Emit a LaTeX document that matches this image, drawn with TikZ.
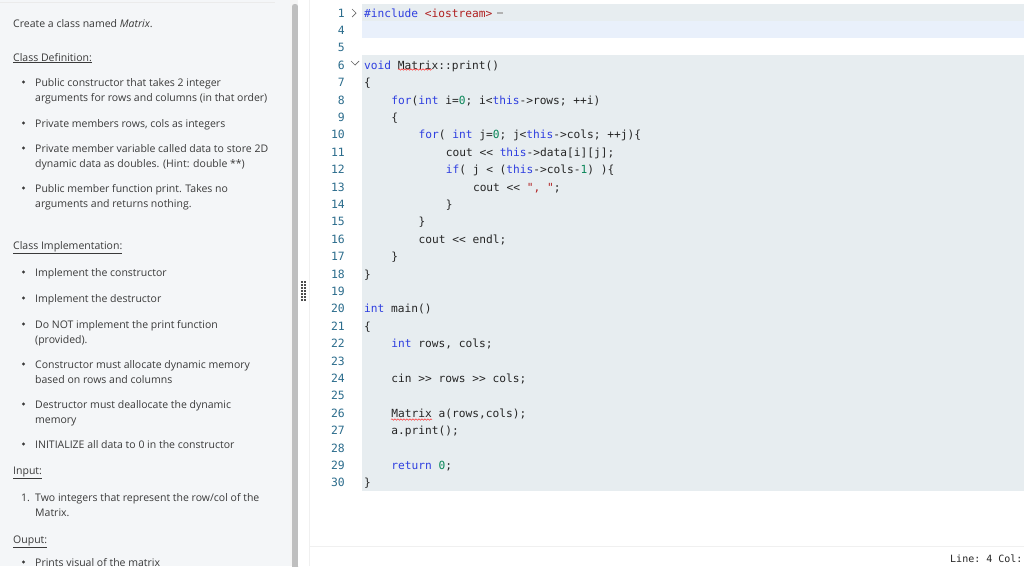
\documentclass[tikz,border=0pt]{standalone}
\usepackage{fontspec}
\setmainfont{Open Sans}
\setmonofont{DejaVu Sans Mono}
\usetikzlibrary{decorations.pathmorphing}
\definecolor{panel}{HTML}{F4F6F8}
\definecolor{txt}{HTML}{3A3A3A}
\definecolor{codebg}{HTML}{E7EDF0}
\definecolor{curln}{HTML}{E9F0FB}
\definecolor{lnum}{HTML}{2B6C8C}
\definecolor{kwc}{HTML}{2F3FE0}
\definecolor{numc}{HTML}{098658}
\definecolor{strc}{HTML}{B02020}
\newcommand{\kw}[1]{\textcolor{kwc}{#1}}
\newcommand{\nm}[1]{\textcolor{numc}{#1}}
\newcommand{\st}[1]{\textcolor{strc}{#1}}
\tikzset{
  lt/.style={anchor=base west,inner sep=0pt,text=txt,font=\fontsize{10.5}{12}\selectfont},
  cd/.style={anchor=base west,inner sep=0pt,text=black!85,font=\ttfamily\fontsize{11.2}{13}\selectfont},
  ln/.style={anchor=base east,inner sep=0pt,text=lnum,font=\ttfamily\fontsize{11.4}{13}\selectfont},
  bul/.style={circle,fill=txt,inner sep=0pt,minimum size=3.4pt}
}
\begin{document}
\begin{tikzpicture}[x=1pt,y=-1pt]
\useasboundingbox (0,0) rectangle (1024,566);
% panels
\fill[panel] (0,0) rectangle (290,566);
\draw[black!8] (0,2) -- (275,2);
\fill[black!4] (290,0) rectangle (298,566);
\fill[black!25,rounded corners=2.5pt] (292,4) rectangle (298,572);
\fill[white] (298,0) rectangle (1024,566);
\draw[black!6] (309,0) -- (309,566);
\foreach \yy in {281,284,...,299}{\fill[black!70] (301,\yy) rectangle +(1.5,1.5); \fill[black!70] (304,\yy) rectangle +(1.5,1.5);}
% code backgrounds
\fill[codebg] (362,4) rectangle (1024,21);
\fill[curln] (362,21) rectangle (1024,38);
\fill[codebg] (362,55) rectangle (1024,491);
\draw[black!6] (309,546) -- (1024,546);
% left text
\node[lt] (t0) at (13,27) {Create a class named \textit{Matrix}.};
\node[lt] (h1) at (13,61) {\underline{Class Definition:}};
\foreach \yy/\tx in {86/{Public constructor that takes 2 integer},101/{arguments for rows and columns (in that order)},127/{Private members rows, cols as integers},152/{Private member variable called data to store 2D},167/{dynamic data as doubles. (Hint: double **)},192/{Public member function print. Takes no},207/{arguments and returns nothing.},276/{Implement the constructor},302/{Implement the destructor},328/{Do NOT implement the print function},343/{(provided).},368/{Constructor must allocate dynamic memory},383/{based on rows and columns},408/{Destructor must deallocate the dynamic},423/{memory},448/{INITIALIZE all data to 0 in the constructor},501/{Two integers that represent the row/col of the},516/{Matrix.},566/{Prints visual of the matrix}}
  {\node[lt] at (35,\yy) {\tx};}
\foreach \yy in {82,123,148,188,272,298,324,364,404,444,562}{\node[bul] at (23.5,\yy) {};}
\node[lt] (h2) at (13,249) {\underline{Class Implementation:}};
\node[lt] (h3) at (13,474) {\underline{Input:}};
\node[lt] (n1) at (21,501) {1.};
\node[lt] (h4) at (13,543) {\underline{Ouput:}};
% line numbers
\foreach \n [count=\k from 0] in {1,4,5,6,7,8,9,10,11,12,13,14,15,16,17,18,19,20,21,22,23,24,25,26,27,28,29,30}
  {\node[ln] at (345,{17+17.4*\k}) {\n};}
\draw[black!60,line width=0.7pt] (352,9) -- (356,13) -- (352,17);
\draw[black!60,line width=0.7pt] (351,61) -- (355,65) -- (359,61);
% code
\newcommand{\cl}[3]{\node[cd] at ({364+6.8*#1},{17+17.4*#2}) {#3};}
\cl{0}{0}{\kw{\#include} \st{<iostream>}}
\fill[black!30] (497,12) rectangle (503,13.5);
\cl{0}{3}{\kw{void} Matrix::print()}
\cl{0}{4}{\{}
\cl{4}{5}{\kw{for}(\kw{int} i=\nm{0}; i<\kw{this}->rows; ++i)}
\cl{4}{6}{\{}
\cl{8}{7}{\kw{for}( \kw{int} j=\nm{0}; j<\kw{this}->cols; ++j)\{}
\cl{12}{8}{cout << \kw{this}->data[i][j];}
\cl{12}{9}{\kw{if}( j < (\kw{this}->cols-\nm{1}) )\{}
\cl{16}{10}{cout << \st{", "};}
\cl{12}{11}{\}}
\cl{8}{12}{\}}
\cl{8}{13}{cout << endl;}
\cl{4}{14}{\}}
\cl{0}{15}{\}}
\cl{0}{17}{\kw{int} main()}
\cl{0}{18}{\{}
\cl{4}{19}{\kw{int} rows, cols;}
\cl{4}{21}{cin >> rows >> cols;}
\cl{4}{23}{Matrix a(rows,cols);}
\cl{4}{24}{a.print();}
\cl{4}{26}{\kw{return} \nm{0};}
\cl{0}{27}{\}}
\draw[red!80,line width=0.5pt,decorate,decoration={snake,amplitude=0.7pt,segment length=3pt}] (398,69.5) -- (432,69.5);
\draw[red!80,line width=0.5pt,decorate,decoration={snake,amplitude=0.7pt,segment length=3pt}] (391,419.5) -- (432,419.5);
\node[cd,font=\ttfamily\fontsize{10}{12}\selectfont] (st) at (950,562) {Line: 4 Col:};
\end{tikzpicture}
\end{document}
